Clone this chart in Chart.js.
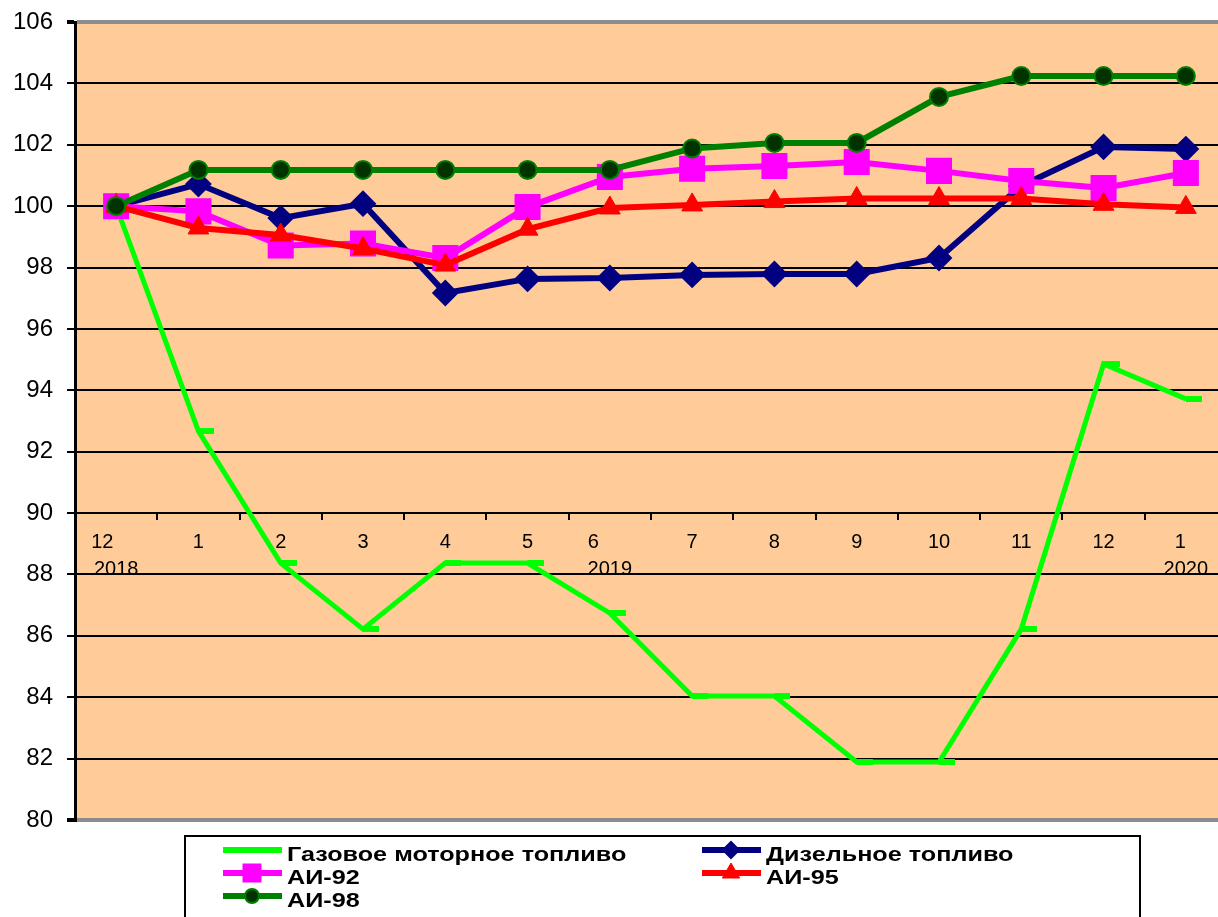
<!DOCTYPE html>
<html>
<head>
<meta charset="utf-8">
<script src="https://cdn.jsdelivr.net/npm/chart.js@4.4.1/dist/chart.umd.min.js"></script>
<style>
  html, body { margin: 0; padding: 0; background: #ffffff; overflow: hidden; }
  canvas { display: block; }
</style>
</head>
<body>
<canvas id="fuelChart" width="1230" height="917"></canvas>
<script>
// ---------- Data ----------
const months = ['12', '1', '2', '3', '4', '5', '6', '7', '8', '9', '10', '11', '12', '1'];
const years = ['2018', '', '', '', '', '', '2019', '', '', '', '', '', '', '2020'];

const gasFuel = [100, 92.67, 88.37, 86.22, 88.37, 88.37, 86.74, 84.04, 84.04, 81.89, 81.89, 86.22, 94.86, 93.72];
const diesel = [100, 100.72, 99.61, 100.08, 97.17, 97.63, 97.66, 97.76, 97.79, 97.79, 98.31, 100.66, 101.93, 101.86];
const ai92 = [100, 99.83, 98.72, 98.78, 98.31, 99.97, 100.95, 101.22, 101.31, 101.44, 101.15, 100.82, 100.59, 101.08];
const ai95 = [100, 99.29, 99.06, 98.62, 98.08, 99.25, 99.94, 100.04, 100.15, 100.25, 100.25, 100.25, 100.06, 99.96];
const ai98 = [100, 101.18, 101.18, 101.18, 101.18, 101.18, 101.18, 101.88, 102.06, 102.06, 103.56, 104.24, 104.24, 104.24];

const yMin = 80, yMax = 106, yStep = 2;

// labels with a year line get shifted a bit left, like the original
const labelShift = { 0: 5, 6: 6, 13: 2 };

// ---------- Dash marker (sits to the right of the point, Excel style) ----------
function makeDash(color) {
  const c = document.createElement('canvas');
  c.width = 32;
  c.height = 6;
  const g = c.getContext('2d');
  g.fillStyle = color;
  g.fillRect(16, 0, 16, 6);
  return c;
}

// ---------- Plugins ----------
const plotBackground = {
  id: 'plotBackground',
  beforeDraw(chart) {
    const { ctx, chartArea: a } = chart;
    ctx.save();
    ctx.fillStyle = '#FFCC99';
    ctx.fillRect(a.left, a.top, a.right - a.left, a.bottom - a.top);
    ctx.restore();
  }
};

const boxLegend = {
  id: 'boxLegend',
  afterDraw(chart) {
    const ctx = chart.ctx;
    const ds = chart.data.datasets;
    const slots = [[223, 850], [702, 850], [223, 873], [702, 873], [223, 896]];
    ctx.save();
    ctx.strokeStyle = '#000000';
    ctx.lineWidth = 2;
    ctx.strokeRect(185, 836, 955, 120);
    ds.forEach((d, i) => {
      const [x, y] = slots[i];
      ctx.strokeStyle = d.borderColor;
      ctx.lineWidth = 6;
      ctx.beginPath();
      ctx.moveTo(x, y);
      ctx.lineTo(x + 59, y);
      ctx.stroke();
      if (d.legendRadius) {
        ctx.fillStyle = d.pointBackgroundColor;
        ctx.strokeStyle = d.pointBorderColor;
        ctx.lineWidth = d.pointBorderWidth;
        Chart.helpers.drawPoint(ctx, {
          pointStyle: d.pointStyle,
          radius: d.legendRadius,
          rotation: 0,
          borderWidth: d.pointBorderWidth
        }, x + 29, y);
      }
      ctx.save();
      ctx.translate(x + 64, y + 5);
      ctx.scale(1.2, 1);
      ctx.fillStyle = '#000000';
      ctx.font = 'bold 21px "Liberation Sans", Arial, sans-serif';
      ctx.textBaseline = 'middle';
      ctx.textAlign = 'left';
      ctx.fillText(d.label, 0, 0);
      ctx.restore();
    });
    ctx.restore();
  }
};

// ---------- Chart ----------
const ctx = document.getElementById('fuelChart');

new Chart(ctx, {
  type: 'line',
  data: {
    labels: months,
    datasets: [
      {
        label: 'Газовое моторное топливо',
        data: gasFuel,
        borderColor: '#00FF00',
        borderWidth: 5,
        pointStyle: makeDash('#00FF00'),
        pointRadius: 8,
        pointBorderWidth: 0,
        pointBorderColor: '#00FF00',
        pointBackgroundColor: '#00FF00',
        legendRadius: 0,
        order: 5
      },
      {
        label: 'Дизельное топливо',
        data: diesel,
        borderColor: '#000080',
        borderWidth: 6,
        pointStyle: 'rectRot',
        pointRadius: 12,
        pointBorderWidth: 2,
        pointBorderColor: '#000080',
        pointBackgroundColor: '#000080',
        legendRadius: 8,
        order: 4
      },
      {
        label: 'АИ-92',
        data: ai92,
        borderColor: '#FF00FF',
        borderWidth: 6,
        pointStyle: 'rect',
        pointRadius: 17,
        pointBorderWidth: 2,
        pointBorderColor: '#FF00FF',
        pointBackgroundColor: '#FF00FF',
        legendRadius: 12,
        order: 3
      },
      {
        label: 'АИ-95',
        data: ai95,
        borderColor: '#FF0000',
        borderWidth: 6,
        pointStyle: 'triangle',
        pointRadius: 12,
        pointBorderWidth: 1,
        pointBorderColor: '#FF0000',
        pointBackgroundColor: '#FF0000',
        legendRadius: 10,
        order: 2
      },
      {
        label: 'АИ-98',
        data: ai98,
        borderColor: '#008000',
        borderWidth: 6,
        pointStyle: 'circle',
        pointRadius: 9,
        pointBorderWidth: 2,
        pointBorderColor: '#008000',
        pointBackgroundColor: '#003300',
        legendRadius: 7,
        order: 1
      }
    ]
  },
  options: {
    responsive: false,
    devicePixelRatio: 1,
    animation: false,
    layout: {
      autoPadding: false,
      padding: { top: 22, bottom: 97, left: 0, right: 3 }
    },
    plugins: {
      legend: { display: false },
      tooltip: { enabled: false }
    },
    elements: {
      line: { tension: 0 }
    },
    scales: {
      y: {
        min: yMin,
        max: yMax,
        afterFit: s => { s.width = 75; s.paddingTop = 0; s.paddingBottom = 0; },
        ticks: {
          stepSize: yStep,
          color: '#000000',
          padding: 14,
          font: { family: '"Liberation Sans", Arial, sans-serif', size: 24 }
        },
        grid: {
          color: c => (c.tick && (c.tick.value === yMax || c.tick.value === yMin)) ? '#8c8c8c' : '#000000',
          lineWidth: c => (c.tick && (c.tick.value === yMax || c.tick.value === yMin)) ? 4 : 2,
          tickColor: '#000000',
          tickLength: 8
        },
        border: { color: '#000000', width: 3 }
      },
      x: {
        position: { y: 90 },
        offset: true,
        afterFit: s => { s.paddingLeft = 0; s.paddingRight = 0; },
        ticks: {
          color: '#000000',
          padding: 10,
          maxRotation: 0,
          autoSkip: false,
          font: { family: '"Liberation Sans", Arial, sans-serif', size: 20, lineHeight: 1.35 },
          callback: (v, i) => {
            if (!years[i]) return months[i];
            return [months[i] + ' '.repeat(labelShift[i] || 0), years[i]];
          }
        },
        grid: {
          display: true,
          offset: true,
          drawOnChartArea: false,
          color: '#000000',
          lineWidth: 2,
          tickLength: 6
        },
        border: { color: '#000000', width: 2 }
      }
    }
  },
  plugins: [plotBackground, boxLegend]
});
</script>
</body>
</html>
